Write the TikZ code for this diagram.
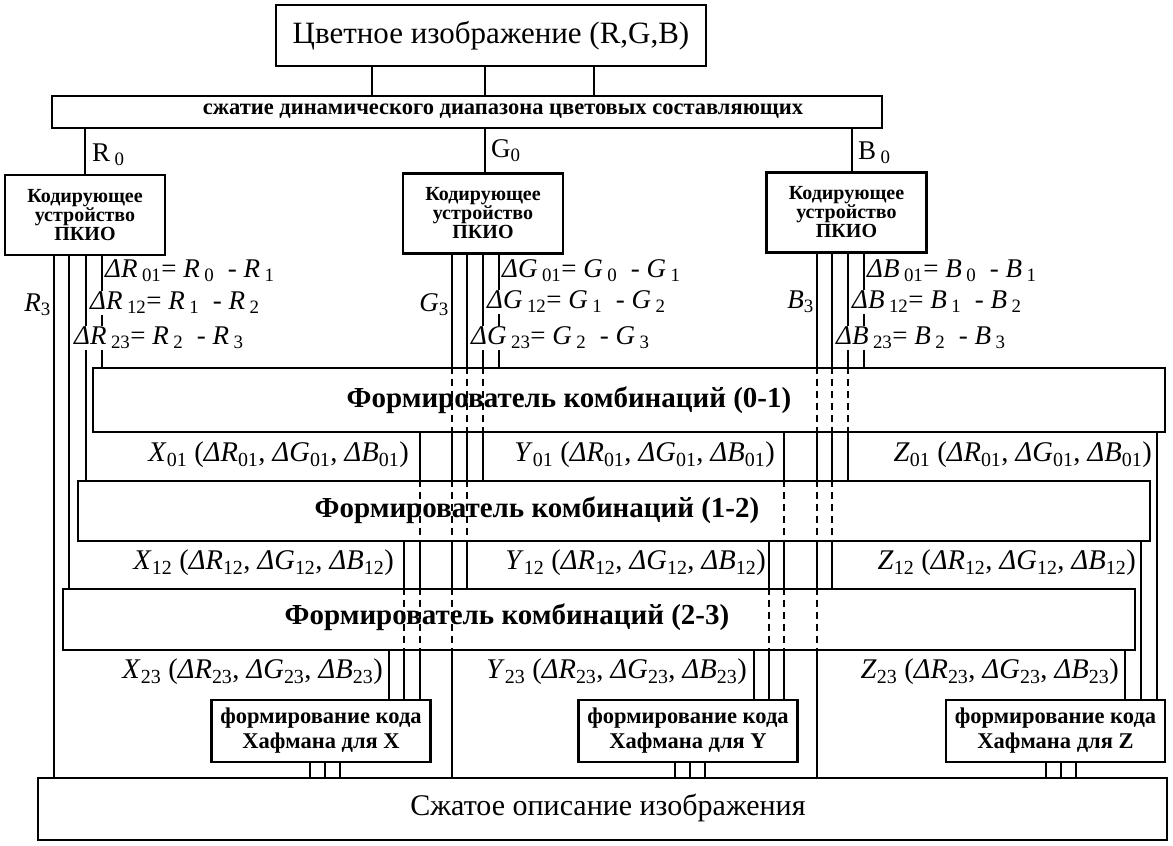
\documentclass[tikz,border=0pt]{standalone}
\usepackage{fontspec}
\setmainfont{Liberation Serif}
\usetikzlibrary{backgrounds}
\newcommand{\sbs}[1]{\textsubscript{\upshape #1}}
\newcommand{\trip}[2]{\textit{#1}\sbs{#2} (\textit{ΔR}\sbs{#2}, \textit{ΔG}\sbs{#2}, \textit{ΔB}\sbs{#2})}
\newcommand{\dif}[4]{\textit{Δ#1}\,\sbs{#2}= \textit{#1}\,\sbs{#3}\ \ - \textit{#1}\,\sbs{#4}}
\begin{document}
\begin{tikzpicture}[x=1pt,y=-1pt,
  box/.style={draw, line width=2.8pt, fill=white, inner sep=0pt},
  coder/.style={box, minimum width=160pt, minimum height=80pt, align=center, font=\bfseries\fontsize{20}{19}\selectfont},
  former/.style={box, minimum width=1072pt},
  ftext/.style={font=\bfseries\fontsize{29}{30}\selectfont},
  huff/.style={box, minimum width=219pt, minimum height=62pt, align=center, font=\bfseries\fontsize{22.5}{25}\selectfont},
  ln/.style={line width=1.4pt},
  dl/.style={line width=1.4pt, dash pattern=on 7pt off 5pt},
  lab/.style={inner sep=1pt, font=\fontsize{27}{27}\selectfont},
  dlab/.style={lab, fill=white, anchor=west},
  olab/.style={lab, anchor=east},
  tlab/.style={inner sep=1pt, anchor=east, font=\fontsize{28.5}{28}\selectfont},
  chan/.style={inner sep=1pt, anchor=west, font=\fontsize{27}{27}\selectfont}]
\useasboundingbox (0,0) rectangle (1173,846);
% boxes
\node[box, minimum width=430pt, minimum height=61pt, font=\fontsize{31}{32}\selectfont] (top) at (491,35.5) {Цветное изображение (R,G,B)};
\node[box, minimum width=830pt, minimum height=32pt] (cmp) at (467,112) {};
\node[font=\bfseries\fontsize{22.5}{23}\selectfont] (cmpt) at (503,111) {сжатие динамического диапазона цветовых составляющих};
\node[coder] (cR) at (85,215) {Кодирующее\\устройство\\ПКИО};
\node[coder] (cG) at (483,213.5) {Кодирующее\\устройство\\ПКИО};
\node[coder] (cB) at (846.5,212.5) {Кодирующее\\устройство\\ПКИО};
\node[former, minimum height=64pt] (f01) at (629,400) {};
\node[former, minimum height=60pt] (f12) at (614,511) {};
\node[former, minimum height=61pt] (f23) at (599,619.5) {};
\node[huff] (hX) at (321,731) {формирование кода\\Хафмана для X};
\node[huff] (hY) at (688,731) {формирование кода\\Хафмана для Y};
\node[huff] (hZ) at (1055.5,731) {формирование кода\\Хафмана для Z};
\node[box, minimum width=1129pt, minimum height=62pt] (fin) at (602.5,809) {};
% x positions of connectors
\foreach \n/\x in {T1/372,T2/485,T3/594,R0/85,G0/485,B0/852,
  R3/54,R23/69,R12/86,R01/102,G3/452,G23/467,G12/483,G01/499,
  B3/817,B23/832,B12/848,B01/864,
  X01/420,X12/404,X23/389,Y01/784,Y12/769,Y23/754,Z01/1157,Z12/1141,Z23/1125,
  hx1/310,hx2/325,hx3/340,hy1/675,hy2/690,hy3/705,hz1/1046,hz2/1061,hz3/1076}
  \coordinate (x\n) at (\x,0);
\begin{scope}[on background layer]
  \foreach \n in {T1,T2,T3} \draw[ln] (x\n |- top.south) -- (x\n |- cmp.north);
  \draw[ln] (xR0 |- cmp.south) -- (xR0 |- cR.north);
  \draw[ln] (xG0 |- cmp.south) -- (xG0 |- cG.north);
  \draw[ln] (xB0 |- cmp.south) -- (xB0 |- cB.north);
  % R group
  \draw[ln] (xR3 |- cR.south) -- (xR3 |- fin.north);
  \draw[ln] (xR23 |- cR.south) -- (xR23 |- f23.north);
  \draw[ln] (xR12 |- cR.south) -- (xR12 |- f12.north);
  \draw[ln] (xR01 |- cR.south) -- (xR01 |- f01.north);
  % G group
  \draw[ln] (xG3 |- cG.south) -- (xG3 |- fin.north);
  \draw[ln] (xG23 |- cG.south) -- (xG23 |- f23.north);
  \draw[ln] (xG12 |- cG.south) -- (xG12 |- f12.north);
  \draw[ln] (xG01 |- cG.south) -- (xG01 |- f01.north);
  % B group
  \draw[ln] (xB3 |- cB.south) -- (xB3 |- fin.north);
  \draw[ln] (xB23 |- cB.south) -- (xB23 |- f23.north);
  \draw[ln] (xB12 |- cB.south) -- (xB12 |- f12.north);
  \draw[ln] (xB01 |- cB.south) -- (xB01 |- f01.north);
  % outputs
  \draw[ln] (xX01 |- f01.south) -- (xX01 |- hX.north);
  \draw[ln] (xX12 |- f12.south) -- (xX12 |- hX.north);
  \draw[ln] (xX23 |- f23.south) -- (xX23 |- hX.north);
  \draw[ln] (xY01 |- f01.south) -- (xY01 |- hY.north);
  \draw[ln] (xY12 |- f12.south) -- (xY12 |- hY.north);
  \draw[ln] (xY23 |- f23.south) -- (xY23 |- hY.north);
  \draw[ln] (xZ01 |- f01.south) -- (xZ01 |- hZ.north);
  \draw[ln] (xZ12 |- f12.south) -- (xZ12 |- hZ.north);
  \draw[ln] (xZ23 |- f23.south) -- (xZ23 |- hZ.north);
  \foreach \n in {hx1,hx2,hx3} \draw[ln] (x\n |- hX.south) -- (x\n |- fin.north);
  \foreach \n in {hy1,hy2,hy3} \draw[ln] (x\n |- hY.south) -- (x\n |- fin.north);
  \foreach \n in {hz1,hz2,hz3} \draw[ln] (x\n |- hZ.south) -- (x\n |- fin.north);
\end{scope}
% dashed crossings
\foreach \n in {G3,G23,G12,B3,B23,B12} \draw[dl] (x\n |- f01.north) -- (x\n |- f01.south);
\foreach \n in {G3,G23,X01,B3,B23,Y01} \draw[dl] (x\n |- f12.north) -- (x\n |- f12.south);
\foreach \n in {G3,X01,X12,B3,Y01,Y12} \draw[dl] (x\n |- f23.north) -- (x\n |- f23.south);
% box texts
\node[ftext] (f01t) at (569,400) {Формирователь комбинаций (0-1)};
\node[ftext] (f12t) at (537,510) {Формирователь комбинаций (1-2)};
\node[ftext] (f23t) at (507,617) {Формирователь комбинаций (2-3)};
\node[font=\fontsize{30}{31}\selectfont] (fint) at (608,808) {Сжатое описание изображения};
% channel labels
\node[chan] (lR0) at (91,155) {R\,\sbs{0}};
\node[chan] (lG0) at (490,151) {G\sbs{0}};
\node[chan] (lB0) at (857,153) {B\,\sbs{0}};
% difference labels
\node[dlab] (dR01) at (104,271) {\dif{R}{01}{0}{1}};
\node[dlab] (dR12) at (89,303) {\dif{R}{12}{1}{2}};
\node[dlab] (dR23) at (73,338) {\dif{R}{23}{2}{3}};
\node[olab] (lR3) at (52,305) {\textit{R}\sbs{3}};
\node[dlab] (dG01) at (501,271) {\dif{G}{01}{0}{1}};
\node[dlab] (dG12) at (486,302) {\dif{G}{12}{1}{2}};
\node[dlab] (dG23) at (470,338) {\dif{G}{23}{2}{3}};
\node[olab] (lG3) at (450,305) {\textit{G}\sbs{3}};
\node[dlab] (dB01) at (866,271) {\dif{B}{01}{0}{1}};
\node[dlab] (dB12) at (851,302) {\dif{B}{12}{1}{2}};
\node[dlab] (dB23) at (835,338) {\dif{B}{23}{2}{3}};
\node[olab] (lB3) at (815,302) {\textit{B}\sbs{3}};
% output labels
\node[tlab] (lX01) at (410,455) {\trip{X}{01}};
\node[tlab] (lY01) at (776,455) {\trip{Y}{01}};
\node[tlab] (lZ01) at (1153,455) {\trip{Z}{01}};
\node[tlab] (lX12) at (395,563) {\trip{X}{12}};
\node[tlab] (lY12) at (767,563) {\trip{Y}{12}};
\node[tlab] (lZ12) at (1137,563) {\trip{Z}{12}};
\node[tlab] (lX23) at (384,672) {\trip{X}{23}};
\node[tlab] (lY23) at (748,672) {\trip{Y}{23}};
\node[tlab] (lZ23) at (1120,672) {\trip{Z}{23}};
\end{tikzpicture}
\end{document}
